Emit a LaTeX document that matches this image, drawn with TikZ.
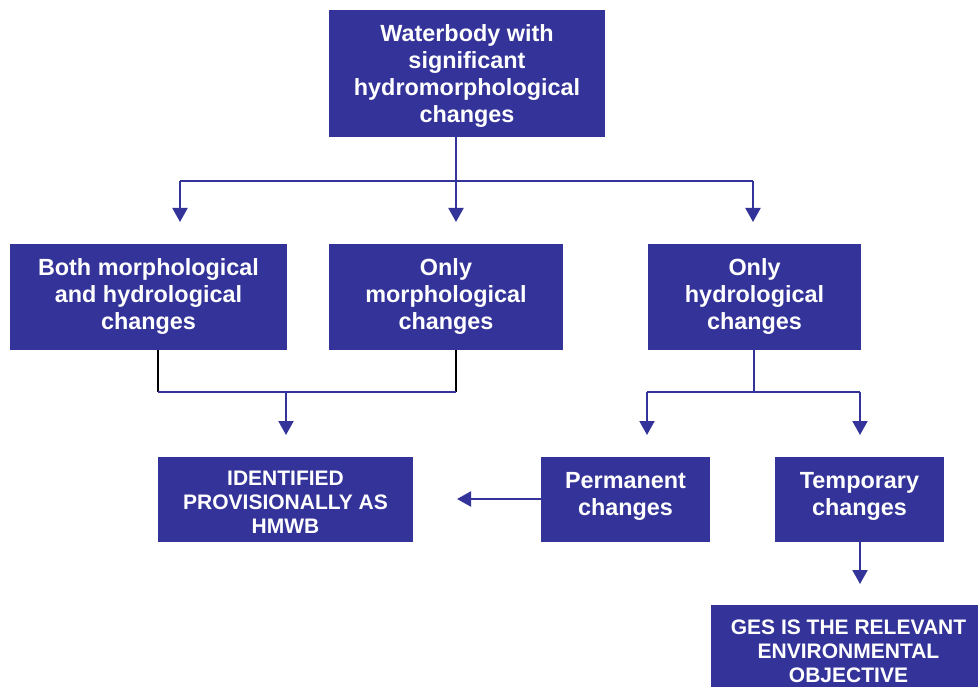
\documentclass[tikz,border=0pt]{standalone}
\usepackage{fontspec}
\setmainfont{Liberation Sans}
\usetikzlibrary{arrows.meta,calc}
\definecolor{navy}{RGB}{51,51,153}
\tikzset{
  box/.style={fill=navy, inner sep=0pt},
  txt/.style={text=white, inner sep=0pt, align=center,
    font=\fontsize{23.4}{27}\selectfont\bfseries},
  captxt/.style={txt, font=\fontsize{21}{24}\selectfont\bfseries},
  conn/.style={draw=navy, line width=2pt},
  blk/.style={draw=black, line width=2pt},
  arr/.style={conn, -{Triangle[length=14pt,width=15pt]}}
}
\begin{document}
\begin{tikzpicture}[x=1pt,y=-1pt]
\useasboundingbox (0,0) rectangle (978,687);
\node[box, minimum width=276pt, minimum height=127pt,
  label={[txt,yshift=-3pt]center:{Waterbody with\\significant\\hydromorphological\\changes}}] (top) at (467,73.5) {};
\node[box, minimum width=277pt, minimum height=106pt,
  label={[txt]center:{Both morphological\\and hydrological\\changes}}] (both) at (148.5,297) {};
\node[box, minimum width=234pt, minimum height=106pt,
  label={[txt]center:{Only\\morphological\\changes}}] (morph) at (446,297) {};
\node[box, minimum width=213pt, minimum height=106pt,
  label={[txt]center:{Only\\hydrological\\changes}}] (hydro) at (754.5,297) {};
\node[box, minimum width=255pt, minimum height=85pt,
  label={[captxt,yshift=-2.5pt]center:{IDENTIFIED\\PROVISIONALLY AS\\HMWB}}] (ident) at (285.5,499.5) {};
\node[box, minimum width=169pt, minimum height=85pt,
  label={[txt,yshift=3pt]center:{Permanent\\changes}}] (perm) at (625.5,499.5) {};
\node[box, minimum width=169pt, minimum height=85pt,
  label={[txt,yshift=3pt]center:{Temporary\\changes}}] (temp) at (859.5,499.5) {};
\node[box, minimum width=267pt, minimum height=84pt,
  label={[captxt,xshift=4pt,yshift=-4pt]center:{GES IS THE RELEVANT\\ENVIRONMENTAL\\OBJECTIVE}}] (ges) at (844.5,647) {};

% top bus
\coordinate (j0) at (456,181);
\coordinate (jl) at (180,181);
\coordinate (jr) at (753,181);
\draw[conn] (top.south -| j0) -- (j0);
\draw[conn] (jl) -- (jr);
\draw[arr] (jl) -- ($(jl)+(0,41)$);
\draw[arr] (j0) -- ($(j0)+(0,41)$);
\draw[arr] (jr) -- ($(jr)+(0,41)$);

% left merge
\coordinate (m1) at (158,392);
\coordinate (m2) at (456,392);
\coordinate (m0) at (286,392);
\draw[blk] (both.south -| m1) -- (m1);
\draw[blk] (morph.south -| m2) -- (m2);
\draw[conn] (m1) -- (m2);
\draw[arr] (m0) -- ($(m0)+(0,43)$);

% hydro split
\coordinate (h0) at (754,392);
\coordinate (hl) at (647,392);
\coordinate (hr) at (860,392);
\draw[conn] (hydro.south -| h0) -- (h0);
\draw[conn] (hl) -- (hr);
\draw[arr] (hl) -- ($(hl)+(0,43)$);
\draw[arr] (hr) -- ($(hr)+(0,43)$);

% permanent -> identified
\coordinate (pe) at (457,499);
\draw[arr] (perm.west |- pe) -- (pe);

% temporary -> GES
\coordinate (t0) at (860,584);
\draw[arr] (temp.south -| t0) -- (t0);
\end{tikzpicture}
\end{document}
